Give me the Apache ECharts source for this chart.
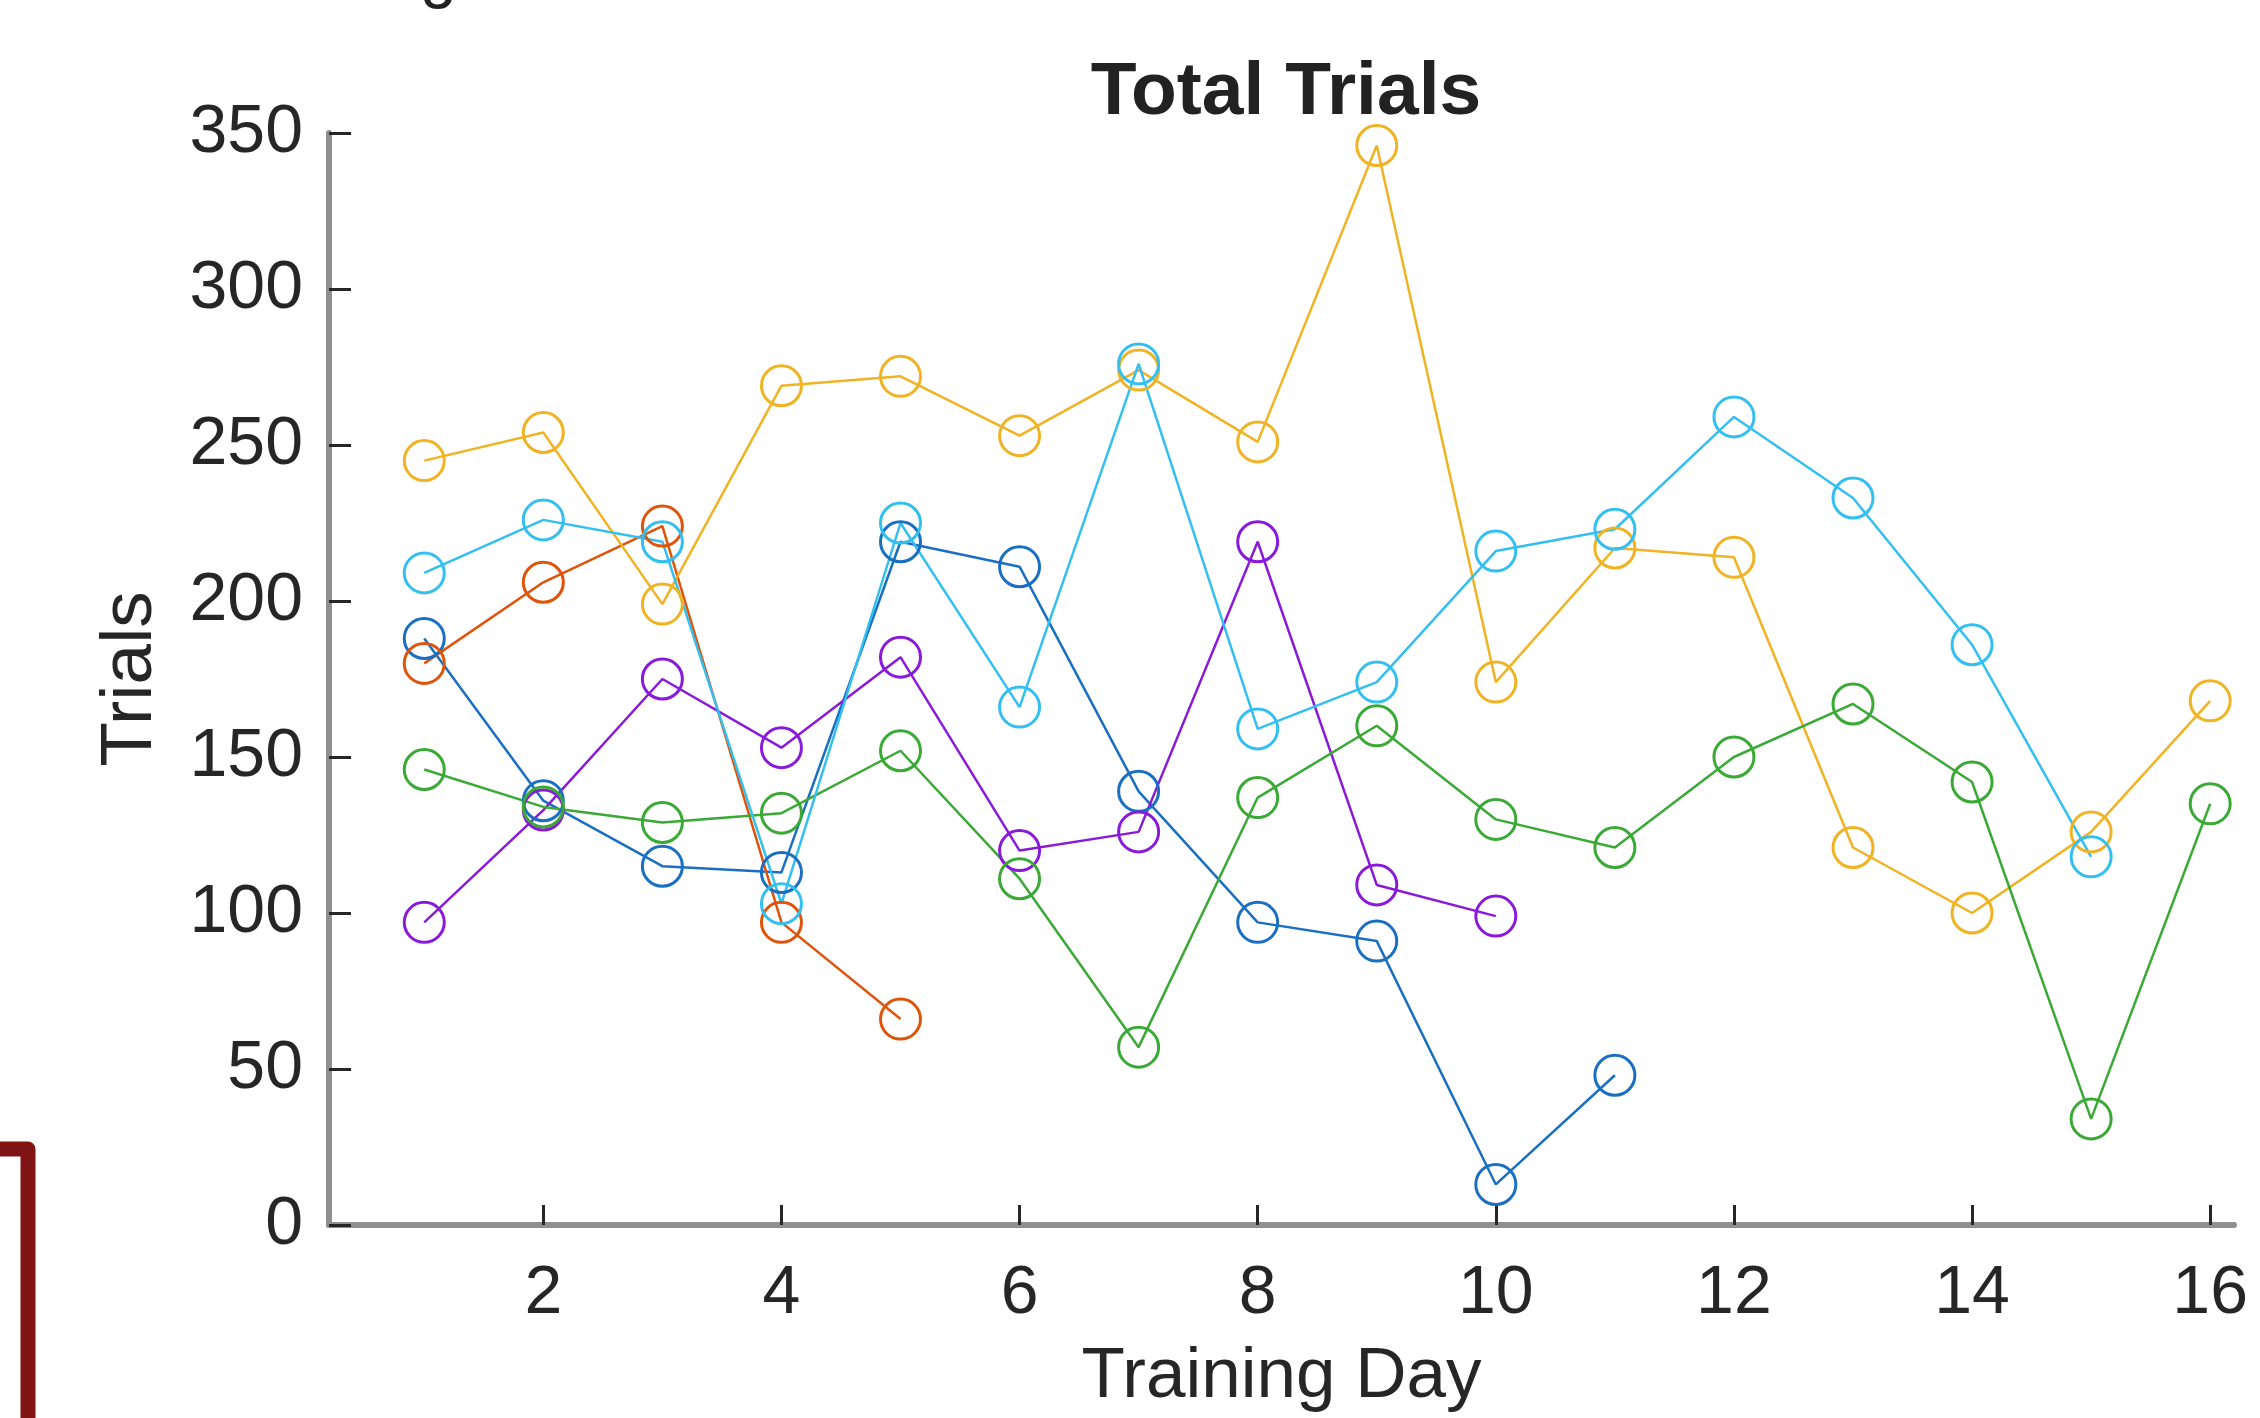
<!DOCTYPE html>
<html>
<head>
<meta charset="utf-8">
<script src="https://cdn.jsdelivr.net/npm/echarts@6/dist/echarts.min.js"></script>
<style>
html, body { margin: 0; padding: 0; background: #fff; }
#main { width: 2260px; height: 1418px; }
</style>
</head>
<body>
<div id="main"></div>
<script>
var myChart = echarts.init(document.getElementById('main'));

// training day ticks shown on the x axis
var dayTicks = [2, 4, 6, 8, 10, 12, 14, 16];

// one array per animal, value per training day starting at day 1
var blueTrials   = [188, 136, 115, 113, 219, 211, 139, 97, 91, 13, 48];
var orangeTrials = [180, 206, 224, 97, 66];
var yellowTrials = [245, 254, 199, 269, 272, 253, 274, 251, 346, 174, 217, 214, 121, 100, 126, 168];
var purpleTrials = [97, 133, 175, 153, 182, 120, 126, 219, 109, 99];
var greenTrials  = [146, 134, 129, 132, 152, 111, 57, 137, 160, 130, 121, 150, 167, 142, 34, 135];
var cyanTrials   = [209, 226, 219, 103, 225, 166, 276, 159, 174, 216, 223, 259, 233, 186, 118];

var colors = ['#1a6fc2', '#e0530a', '#f0b323', '#8a1ad9', '#3aa935', '#33bff0'];
var allTrials = [blueTrials, orangeTrials, yellowTrials, purpleTrials, greenTrials, cyanTrials];

function toPoints(arr) {
    var pts = [];
    for (var i = 0; i < arr.length; i++) {
        pts.push([i + 1, arr[i]]);
    }
    return pts;
}

var font = "'Liberation Sans', Arial, Helvetica, sans-serif";
var series = [];
for (var s = 0; s < allTrials.length; s++) {
    series.push({
        type: 'line',
        data: toPoints(allTrials[s]),
        symbol: 'circle',
        symbolSize: 40,
        itemStyle: {
            color: 'rgba(0,0,0,0)',
            borderColor: colors[s],
            borderWidth: 3
        },
        lineStyle: { color: colors[s], width: 2.5 },
        animation: false
    });
}

option = {
    backgroundColor: '#fff',
    title: {
        text: 'Total Trials',
        left: 1281,
        textAlign: 'center',
        top: 51,
        textStyle: {
            fontFamily: font,
            fontWeight: 'bold',
            fontSize: 75,
            color: '#222'
        }
    },
    grid: {
        left: 329,
        right: 26,
        top: 133,
        bottom: 191,
        containLabel: false
    },
    xAxis: {
        type: 'value',
        min: 0.2,
        max: 16.2,
        name: 'Training Day',
        nameLocation: 'middle',
        nameGap: 117,
        nameTextStyle: { fontFamily: font, fontSize: 71, color: '#262626' },
        axisLine: { show: true, lineStyle: { color: '#8f8f8f', width: 6 } },
        axisTick: {
            show: true,
            inside: true,
            length: 20,
            customValues: dayTicks,
            lineStyle: { color: '#262626', width: 3 }
        },
        axisLabel: {
            customValues: dayTicks,
            margin: 35,
            fontFamily: font,
            fontSize: 68,
            color: '#262626'
        },
        splitLine: { show: false }
    },
    yAxis: {
        type: 'value',
        min: 0,
        max: 350,
        interval: 50,
        name: 'Trials',
        nameLocation: 'middle',
        nameGap: 162,
        nameTextStyle: { fontFamily: font, fontSize: 73, color: '#262626' },
        axisLine: { show: true, lineStyle: { color: '#8f8f8f', width: 6 } },
        axisTick: {
            show: true,
            inside: true,
            length: 22,
            lineStyle: { color: '#262626', width: 3 }
        },
        axisLabel: {
            margin: 26,
            fontFamily: font,
            fontSize: 68,
            color: '#262626'
        },
        splitLine: { show: false }
    },
    graphic: [
        {
            type: 'text',
            left: 420,
            top: -56,
            style: { text: 'g', font: '66px ' + font, fill: '#222' }
        },
        {
            type: 'polyline',
            shape: { points: [[0, 1149], [28, 1149], [28, 1418]] },
            style: { stroke: '#801414', lineWidth: 15, fill: null, lineJoin: 'round' }
        }
    ],
    series: series
};

myChart.setOption(option);
</script>
</body>
</html>
